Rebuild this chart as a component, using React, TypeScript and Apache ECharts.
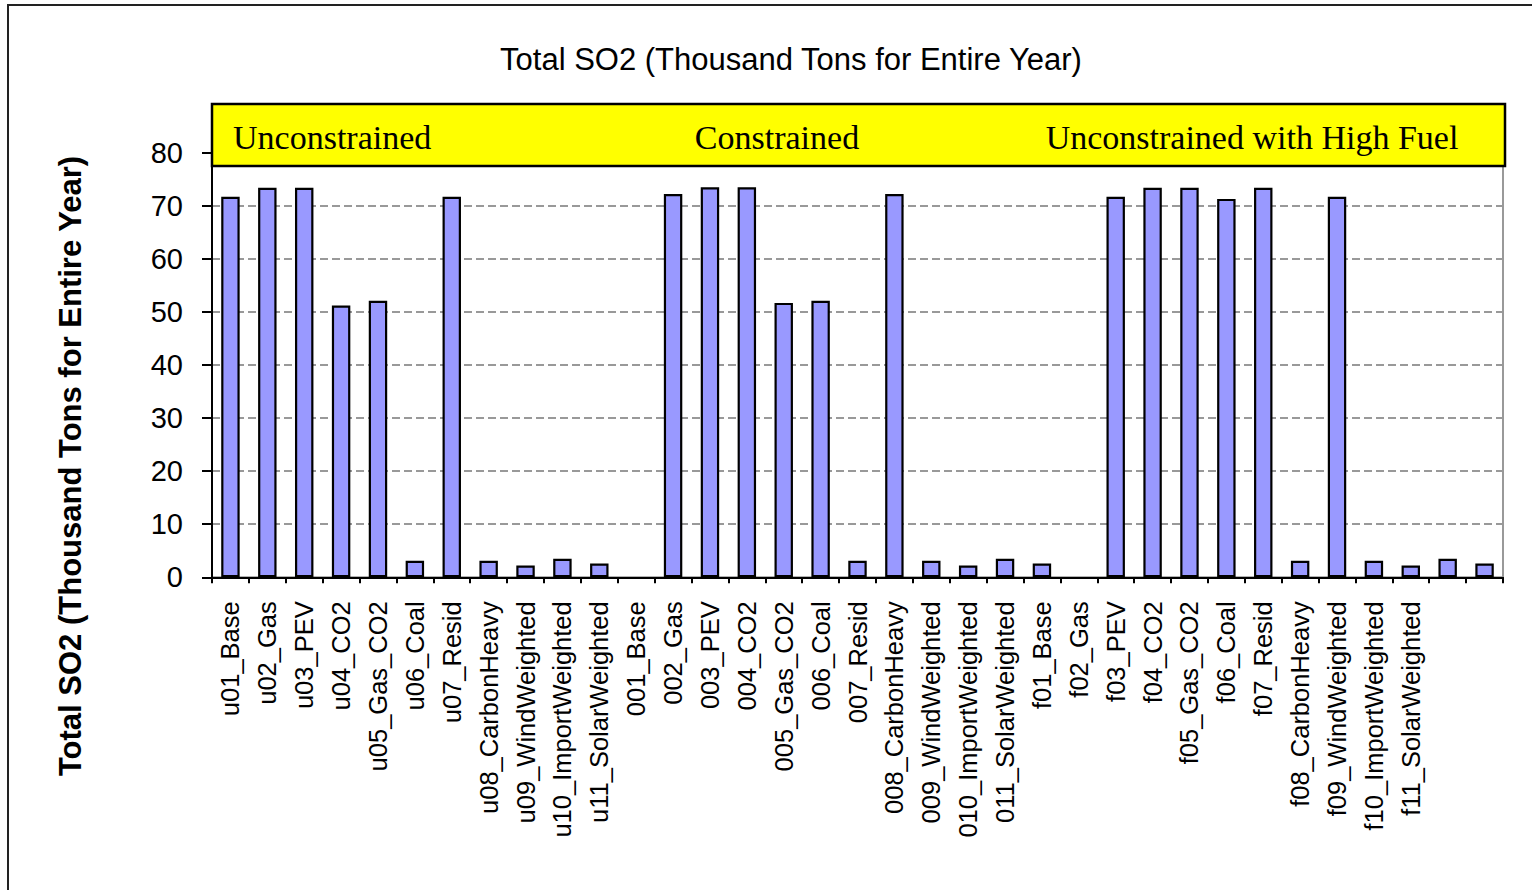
import React, { useEffect, useRef } from "react";
import * as echarts from "echarts";

// Scenario runs along the x axis (last two slots have no label)
const categories: string[] = [
  "u01_Base", "u02_Gas", "u03_PEV", "u04_CO2", "u05_Gas_CO2", "u06_Coal",
  "u07_Resid", "u08_CarbonHeavy", "u09_WindWeighted", "u10_ImportWeighted", "u11_SolarWeighted",
  "001_Base", "002_Gas", "003_PEV", "004_CO2", "005_Gas_CO2", "006_Coal",
  "007_Resid", "008_CarbonHeavy", "009_WindWeighted", "010_ImportWeighted", "011_SolarWeighted",
  "f01_Base", "f02_Gas", "f03_PEV", "f04_CO2", "f05_Gas_CO2", "f06_Coal",
  "f07_Resid", "f08_CarbonHeavy", "f09_WindWeighted", "f10_ImportWeighted", "f11_SolarWeighted",
  "", "",
];

// Total SO2, thousand tons per year (null = no bar)
const so2Values: (number | null)[] = [
  71.7, 73.4, 73.4, 51.2, 52.1, 3.1, 71.7, 3.1, 2.2, 3.5, 2.6,
  null, 72.2, 73.5, 73.5, 51.7, 52.1, 3.1, 72.2, 3.1, 2.2, 3.5,
  2.6, null, 71.7, 73.4, 73.4, 71.3, 73.4, 3.1, 71.7, 3.1, 2.2,
  3.5, 2.6,
];

const groupHeaders: string[] = ["Unconstrained", "Constrained", "Unconstrained with High Fuel"];

const chartTitle = "Total SO2 (Thousand Tons for Entire Year)";
const yAxisTitle = "Total SO2 (Thousand Tons for Entire Year)";

const SANS = "'Liberation Sans', Arial, sans-serif";
const SERIF = "'Liberation Serif', 'Times New Roman', serif";

export default function App() {
  const ref = useRef<HTMLDivElement>(null);

  useEffect(() => {
    document.body.style.margin = "0";
    if (!ref.current) return;
    const chart = echarts.init(ref.current, undefined, { renderer: "svg" });

    chart.setOption({
      animation: false,
      backgroundColor: "#ffffff",
      grid: {
        left: 212,
        right: 29,
        top: 152.7,
        bottom: 312.7,
        show: true,
        borderColor: "#999999",
        borderWidth: 2,
        backgroundColor: "transparent",
      },
      xAxis: {
        type: "category",
        data: categories,
        axisLine: { show: true, lineStyle: { color: "#000", width: 2 } },
        axisTick: { show: true, length: 6, lineStyle: { color: "#000", width: 2 } },
        axisLabel: {
          interval: 0,
          rotate: 90,
          margin: 24,
          fontSize: 25.5,
          fontFamily: SANS,
          color: "#000",
        },
        splitLine: { show: false },
      },
      yAxis: {
        type: "value",
        min: 0,
        max: 80,
        interval: 10,
        axisLine: { show: true, lineStyle: { color: "#000", width: 2 } },
        axisTick: { show: true, length: 10, lineStyle: { color: "#000", width: 2 } },
        axisLabel: {
          margin: 29,
          fontSize: 29,
          fontFamily: SANS,
          color: "#000",
        },
        splitLine: {
          show: true,
          lineStyle: { color: "#999999", width: 2, type: [8, 4] },
        },
      },
      series: [
        {
          type: "bar",
          data: so2Values,
          barWidth: "50%",
          itemStyle: {
            color: "#9999FF",
            borderColor: "#000",
            borderWidth: 2.2,
          },
        },
      ],
      graphic: [
        // outer chart frame
        {
          type: "rect",
          z: 1,
          silent: true,
          shape: { x: 8, y: 5, width: 1600, height: 1000 },
          style: { fill: "none", stroke: "#222", lineWidth: 2 },
        },
        {
          type: "text",
          z: 100,
          x: 791,
          y: 59,
          style: {
            text: chartTitle,
            fontSize: 31,
            fontFamily: SANS,
            fill: "#000",
            align: "center",
            verticalAlign: "middle",
          },
        },
        {
          type: "text",
          z: 100,
          x: 70,
          y: 466,
          rotation: Math.PI / 2,
          style: {
            text: yAxisTitle,
            fontSize: 31,
            fontWeight: "bold",
            fontFamily: SANS,
            fill: "#000",
            align: "center",
            verticalAlign: "middle",
          },
        },
        // scenario group banner across the top of the plot
        {
          type: "rect",
          z: 100,
          shape: { x: 212, y: 104, width: 1293, height: 62 },
          style: { fill: "#FFFF00", stroke: "#000", lineWidth: 2.5 },
        },
        {
          type: "text",
          z: 101,
          x: 233,
          y: 137,
          style: {
            text: groupHeaders[0],
            fontSize: 34,
            fontFamily: SERIF,
            fill: "#000",
            align: "left",
            verticalAlign: "middle",
          },
        },
        {
          type: "text",
          z: 101,
          x: 777,
          y: 137,
          style: {
            text: groupHeaders[1],
            fontSize: 34,
            fontFamily: SERIF,
            fill: "#000",
            align: "center",
            verticalAlign: "middle",
          },
        },
        {
          type: "text",
          z: 101,
          x: 1252,
          y: 137,
          style: {
            text: groupHeaders[2],
            fontSize: 34,
            fontFamily: SERIF,
            fill: "#000",
            align: "center",
            verticalAlign: "middle",
          },
        },
      ],
    });

    return () => chart.dispose();
  }, []);

  return <div ref={ref} style={{ width: 1532, height: 890 }} />;
}
